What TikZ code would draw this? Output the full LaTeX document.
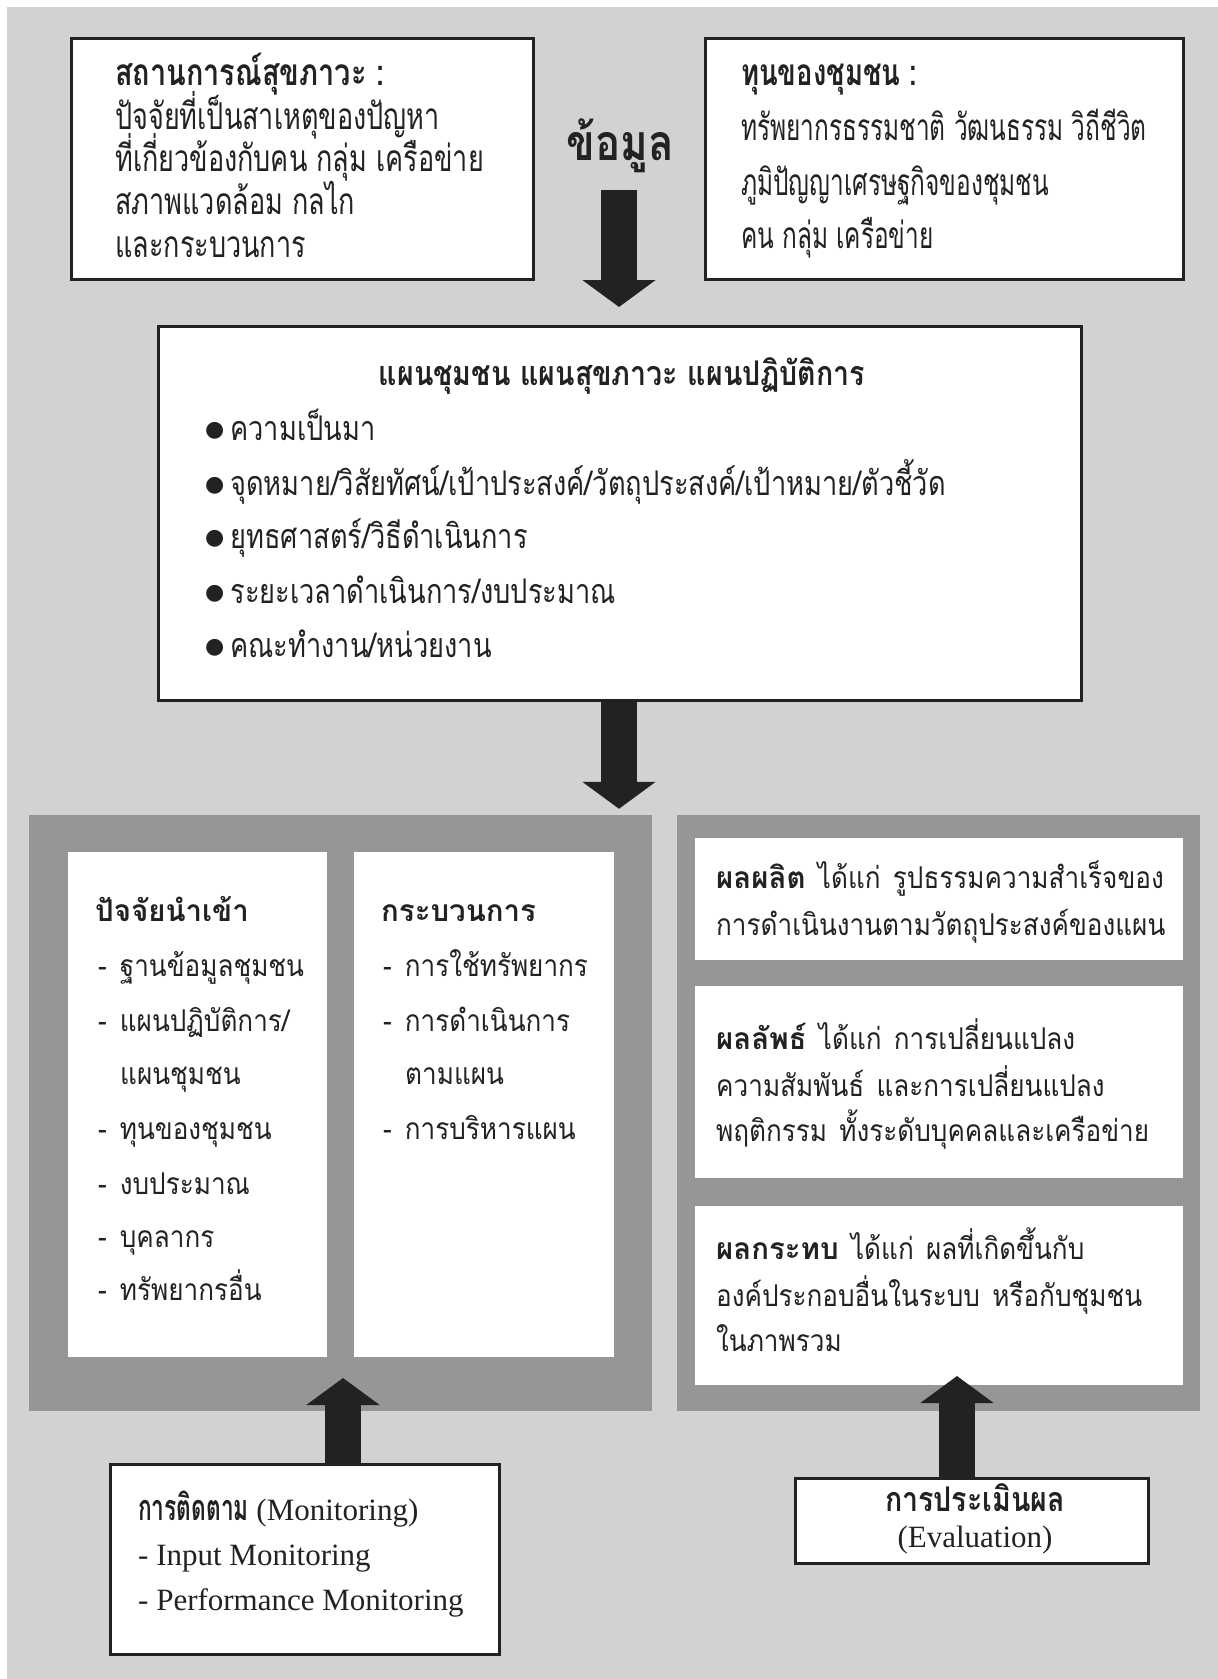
\documentclass[tikz,border=0pt]{standalone}
\usepackage{fontspec}
\usetikzlibrary{arrows.meta}
\setmainfont{Liberation Serif}
\newfontfamily\thaiT[Script=Thai,FakeStretch=0.8,BoldFeatures={FakeStretch=0.84}]{Loma}
\newfontfamily\thaiS[Script=Thai,FakeStretch=0.73,BoldFeatures={FakeStretch=0.78}]{Loma}
\newfontfamily\thaiC[Script=Thai,FakeStretch=0.66,BoldFeatures={FakeStretch=0.74}]{Loma}
\newfontfamily\thaiP[Script=Thai,FakeStretch=0.87,WordSpace=1.4,BoldFeatures={FakeStretch=0.98}]{Loma}
\newfontfamily\thaiM[Script=Thai,FakeStretch=0.63]{Loma}
\newfontfamily\symf{DejaVu Sans}
\definecolor{bgray}{HTML}{D2D2D2}
\definecolor{pgray}{HTML}{969696}
\definecolor{ink}{HTML}{222222}
\newcommand{\blt}{\raisebox{4pt}{\symf\fontsize{22}{22}\selectfont ●}\hspace{6pt}}
\begin{document}
\begin{tikzpicture}[x=1pt,y=-1pt,
  frame/.style={draw=ink,line width=3pt,fill=white,inner sep=0pt},
  panel/.style={fill=pgray,draw=none,inner sep=0pt},
  inbox/.style={fill=white,draw=none,inner sep=0pt},
  ln/.style={anchor=base west,inner sep=0pt,text=ink},
  tt/.style={font=\thaiT\fontsize{34}{40}\selectfont},
  ts/.style={font=\thaiS\fontsize{37}{42}\selectfont},
  tc/.style={font=\thaiC\fontsize{37}{42}\selectfont},
  tp/.style={font=\thaiP\fontsize{30}{36}\selectfont},
  tm/.style={font=\fontsize{31}{36}\selectfont},
  fat/.style={draw=ink,line width=36pt,-{Triangle[length=27pt,width=72pt]}}]
\useasboundingbox (0,0) rectangle (1218,1679);
\fill[white] (0,0) rectangle (1218,1679);
\fill[bgray] (7,7) rectangle (1218,1679);
% top boxes
\node[frame,minimum width=462,minimum height=241] (sit) at (302.5,159) {};
\node[frame,minimum width=478,minimum height=241] (cap) at (944.5,159) {};
\node[ln,ts] (s0) at (115,85) {\bfseries สถานการณ์สุขภาวะ :};
\node[ln,ts] (s1) at (115,129) {ปัจจัยที่เป็นสาเหตุของปัญหา};
\node[ln,ts] (s2) at (115,171) {ที่เกี่ยวข้องกับคน กลุ่ม เครือข่าย};
\node[ln,ts] (s3) at (115,214) {สภาพแวดล้อม กลไก};
\node[ln,ts] (s4) at (115,257) {และกระบวนการ};
\node[ln,tc] (c0) at (741,85) {\bfseries ทุนของชุมชน :};
\node[ln,tc] (c1) at (741,140) {ทรัพยากรธรรมชาติ วัฒนธรรม วิถีชีวิต};
\node[ln,tc] (c2) at (741,195) {ภูมิปัญญาเศรษฐกิจของชุมชน};
\node[ln,tc] (c3) at (741,248) {คน กลุ่ม เครือข่าย};
\node[anchor=base,inner sep=0pt,text=ink,font=\thaiT\bfseries\fontsize{50}{56}\selectfont] (data) at (620,160) {ข้อมูล};
% plan box
\node[frame,minimum width=923,minimum height=374] (plan) at (620,513.5) {};
\node[anchor=base,inner sep=0pt,text=ink,tt] (pt) at (622,385) {\bfseries แผนชุมชน แผนสุขภาวะ แผนปฏิบัติการ};
\node[ln,tt] (p1) at (205,440) {\blt ความเป็นมา};
\node[ln,tt] (p2) at (205,495) {\blt จุดหมาย/วิสัยทัศน์/เป้าประสงค์/วัตถุประสงค์/เป้าหมาย/ตัวชี้วัด};
\node[ln,tt] (p3) at (205,548) {\blt ยุทธศาสตร์/วิธีดำเนินการ};
\node[ln,tt] (p4) at (205,603) {\blt ระยะเวลาดำเนินการ/งบประมาณ};
\node[ln,tt] (p5) at (205,657) {\blt คณะทำงาน/หน่วยงาน};
% panels
\node[panel,minimum width=623,minimum height=596] (pL) at (340.5,1113) {};
\node[panel,minimum width=523,minimum height=596] (pR) at (938.5,1113) {};
\node[inbox,minimum width=259,minimum height=505] (inL) at (197.5,1104.5) {};
\node[inbox,minimum width=260,minimum height=505] (inR) at (484,1104.5) {};
\node[inbox,minimum width=488,minimum height=122] (ra) at (939,899) {};
\node[inbox,minimum width=488,minimum height=192] (rb) at (939,1082) {};
\node[inbox,minimum width=488,minimum height=179] (rc) at (939,1295.5) {};
% left inner
\node[ln,tp] (l0) at (95,921) {\bfseries ปัจจัยนำเข้า};
\node[ln,tp] (l1) at (98,976) {-\hspace{13pt}ฐานข้อมูลชุมชน};
\node[ln,tp] (l2) at (98,1031) {-\hspace{13pt}แผนปฏิบัติการ/};
\node[ln,tp] (l3) at (120,1084) {แผนชุมชน};
\node[ln,tp] (l4) at (98,1139) {-\hspace{13pt}ทุนของชุมชน};
\node[ln,tp] (l5) at (98,1194) {-\hspace{13pt}งบประมาณ};
\node[ln,tp] (l6) at (98,1247) {-\hspace{13pt}บุคลากร};
\node[ln,tp] (l7) at (98,1300) {-\hspace{13pt}ทรัพยากรอื่น};
% right inner
\node[ln,tp] (r0) at (381,921) {\bfseries กระบวนการ};
\node[ln,tp] (r1) at (383,976) {-\hspace{13pt}การใช้ทรัพยากร};
\node[ln,tp] (r2) at (383,1031) {-\hspace{13pt}การดำเนินการ};
\node[ln,tp] (r3) at (405,1084) {ตามแผน};
\node[ln,tp] (r4) at (383,1139) {-\hspace{13pt}การบริหารแผน};
% result boxes
\node[ln,tp] (a1) at (716,888) {\textbf{ผลผลิต} ได้แก่ รูปธรรมความสำเร็จของ};
\node[ln,tp] (a2) at (716,935) {การดำเนินงานตามวัตถุประสงค์ของแผน};
\node[ln,tp] (b1) at (716,1049) {\textbf{ผลลัพธ์} ได้แก่ การเปลี่ยนแปลง};
\node[ln,tp] (b2) at (716,1096) {ความสัมพันธ์ และการเปลี่ยนแปลง};
\node[ln,tp] (b3) at (716,1141) {พฤติกรรม ทั้งระดับบุคคลและเครือข่าย};
\node[ln,tp] (c1x) at (716,1259) {\textbf{ผลกระทบ} ได้แก่ ผลที่เกิดขึ้นกับ};
\node[ln,tp] (c2x) at (716,1306) {องค์ประกอบอื่นในระบบ หรือกับชุมชน};
\node[ln,tp] (c3x) at (716,1351) {ในภาพรวม};
% bottom boxes
\node[frame,minimum width=389,minimum height=190] (mon) at (305,1559.5) {};
\node[frame,minimum width=353,minimum height=85] (eval) at (972,1521) {};
\node[ln,tm] (m0) at (138,1520) {{\thaiM\bfseries\fontsize{36}{40}\selectfont การติดตาม} (Monitoring)};
\node[ln,tm] (m1) at (138,1565) {- Input Monitoring};
\node[ln,tm] (m2) at (138,1610) {- Performance Monitoring};
\node[anchor=base,inner sep=0pt,text=ink,tt] (e0) at (975,1511) {\bfseries การประเมินผล};
\node[anchor=base,inner sep=0pt,text=ink,tm] (e1) at (975,1547) {(Evaluation)};
% arrows
\coordinate (t1) at (619,190);
\draw[fat] (t1) -- (t1 |- plan.north) [shorten >=18pt];
\draw[fat,shorten >=6pt] (plan.south -| t1) -- (t1 |- pL.north);
\coordinate (t3) at (343,1378);
\draw[fat] (t3 |- mon.north) -- (t3);
\coordinate (t4) at (957,1376);
\draw[fat] (t4 |- eval.north) -- (t4);
\end{tikzpicture}
\end{document}
